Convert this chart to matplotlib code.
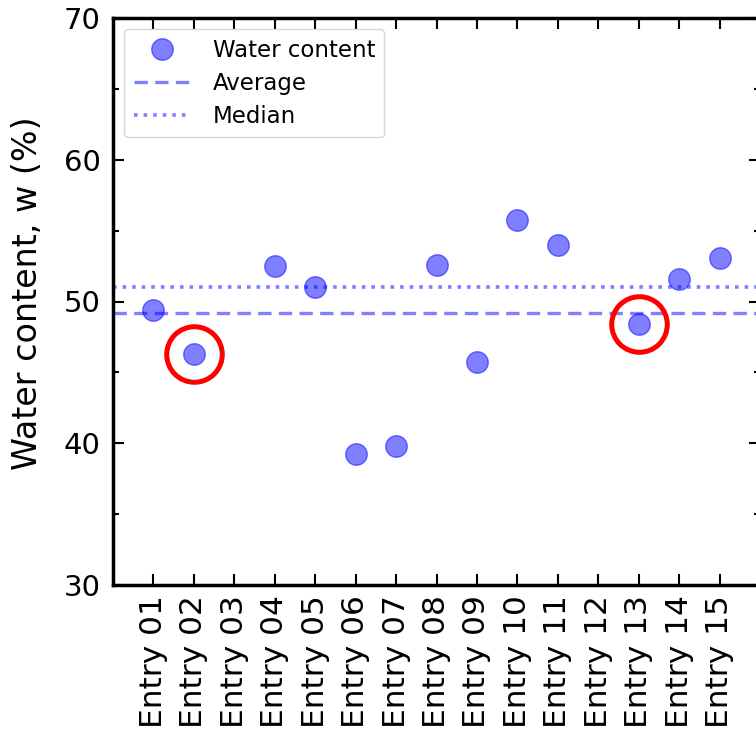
import matplotlib
matplotlib.use('Agg')
import matplotlib.pyplot as plt
import numpy as np

# Water content per sample (NaN = no measurement)
entries = ['Entry %02d' % i for i in range(1, 16)]
water = [49.4, 46.3, np.nan, 52.5, 51.0, 39.25, 39.8, 52.6,
         45.7, 55.75, 54.0, np.nan, 48.4, 51.6, 53.1]
flagged = ['Entry 02', 'Entry 13']

w = np.array(water)
avg = np.nanmean(w)
med = np.nanmedian(w)
x = np.arange(1, len(entries) + 1)

fig = plt.figure(figsize=(7.56, 7.36), dpi=100)
ax = fig.add_axes([113 / 756, 151 / 736, 647 / 756, 567 / 736])

blue = '#0000ff'
ax.plot(x, w, 'o', color=blue, alpha=0.5, markersize=15.5, label='Water content', zorder=3)
ax.axhline(avg, color=blue, alpha=0.5, ls='--', lw=2.4, dashes=(4, 2.2), label='Average')
ax.axhline(med, color=blue, alpha=0.5, ls=':', lw=2.6, label='Median')

# ring the suspicious samples
for name in flagged:
    i = entries.index(name)
    ax.plot(x[i], w[i], 'o', ms=40, mfc='none', mec='red', mew=3.6, zorder=4)

ax.set_xlim(0, 16)
ax.set_ylim(30, 70)
ax.set_xticks(x)
ax.set_xticklabels(entries, rotation=90, fontsize=22.5)
ax.set_yticks([30, 40, 50, 60, 70])
ax.set_yticks([35, 45, 55, 65], minor=True)
ax.tick_params(axis='y', labelsize=21, pad=9)
ax.tick_params(axis='x', pad=7)
ax.set_ylabel('Water content, w (%)', fontsize=24)
ax.yaxis.set_label_coords(-0.107, 0.515)

ax.tick_params(which='both', direction='in', top=True, right=True, width=1.5)
ax.tick_params(which='major', length=8)
ax.tick_params(which='minor', length=4)
for s in ax.spines.values():
    s.set_linewidth(2.5)

ax.legend(loc='upper left', fontsize=16.5, borderpad=0.4,
          handlelength=2.45, handletextpad=1.0, labelspacing=0.45)

fig.savefig('out.png', dpi=100)
